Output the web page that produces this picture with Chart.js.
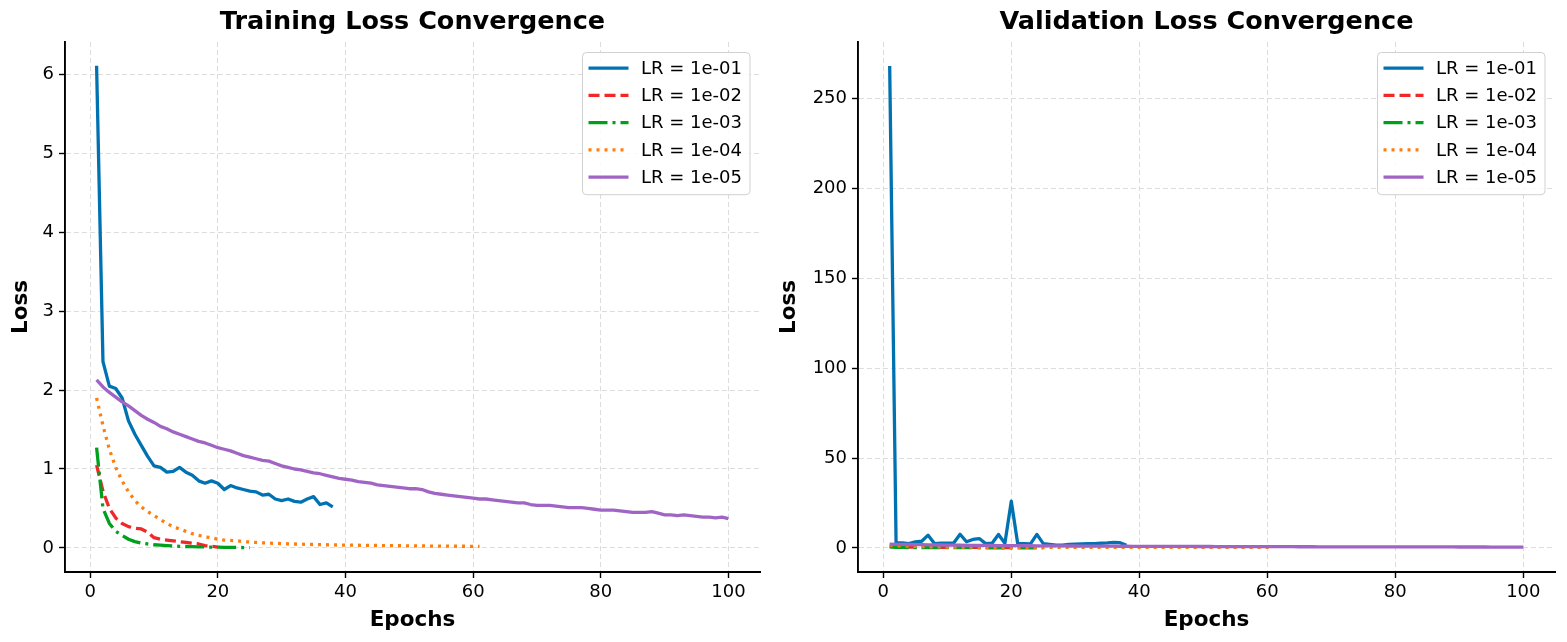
<!DOCTYPE html>
<html>
<head>
<meta charset="utf-8">
<script src="https://cdn.jsdelivr.net/npm/chart.js@4.4.1/dist/chart.umd.min.js"></script>
<style>
  html, body { margin: 0; padding: 0; background: #fff; }
  #wrap { position: relative; width: 1567px; height: 642px; }
  canvas { position: absolute; top: 0; }
</style>
</head>
<body>
<div id="wrap">
  <canvas id="trainChart" width="770" height="642" style="left:0"></canvas>
  <canvas id="valChart" width="797" height="642" style="left:770px"></canvas>
</div>
<script>
const lrLabels = ['LR = 1e-01', 'LR = 1e-02', 'LR = 1e-03', 'LR = 1e-04', 'LR = 1e-05'];
const lrColors = ['#0072B2', '#F02828', '#00A01E', '#FF7F0E', '#A065C4'];
const lrDashes = [[], [11, 5], [19, 5, 3, 5], [3, 5], []];

const xTicks = [0, 20, 40, 60, 80, 100];
const trainYTicks = [0, 1, 2, 3, 4, 5, 6];
const valYTicks = [0, 50, 100, 150, 200, 250];

// training loss per epoch
const trainLr1 = [6.11, 2.36, 2.05, 2.02, 1.90, 1.61, 1.44, 1.30, 1.16, 1.04, 1.02, 0.96, 0.97, 1.02, 0.96,
  0.92, 0.85, 0.82, 0.85, 0.82, 0.74, 0.79, 0.76, 0.74, 0.72, 0.71, 0.67, 0.68, 0.62, 0.60,
  0.62, 0.59, 0.58, 0.62, 0.65, 0.55, 0.57, 0.52];
const trainLr2 = [1.05, 0.72, 0.50, 0.38, 0.31, 0.27, 0.25, 0.24, 0.20, 0.13, 0.11, 0.10, 0.09, 0.08, 0.07,
  0.06, 0.05, 0.03, 0.02, 0.01];
const trainLr3 = [1.27, 0.50, 0.31, 0.21, 0.16, 0.11, 0.08, 0.06, 0.05, 0.04, 0.035, 0.03, 0.025, 0.02, 0.018,
  0.016, 0.014, 0.012, 0.010, 0.009, 0.008, 0.007, 0.006, 0.005, 0.005];
const trainLr4 = [1.90, 1.55, 1.25, 1.02, 0.85, 0.71, 0.60, 0.52, 0.46, 0.41, 0.36, 0.31, 0.27, 0.24, 0.21,
  0.18, 0.16, 0.14, 0.13, 0.11, 0.10, 0.095, 0.09, 0.08, 0.075, 0.07, 0.065, 0.06, 0.058, 0.055,
  0.052, 0.05, 0.048, 0.045, 0.043, 0.041, 0.04, 0.038, 0.037, 0.036, 0.035, 0.034, 0.033, 0.032, 0.031,
  0.03, 0.029, 0.028, 0.027, 0.026, 0.026, 0.025, 0.024, 0.024, 0.023, 0.022, 0.022, 0.021, 0.021, 0.02, 0.02];
const trainLr5 = [2.13, 2.04, 1.97, 1.91, 1.85, 1.80, 1.74, 1.68, 1.63, 1.59, 1.54, 1.51, 1.47, 1.44, 1.41,
  1.38, 1.35, 1.33, 1.30, 1.27, 1.25, 1.23, 1.20, 1.17, 1.15, 1.13, 1.11, 1.10, 1.07, 1.04,
  1.02, 1.00, 0.99, 0.97, 0.95, 0.94, 0.92, 0.90, 0.88, 0.87, 0.86, 0.84, 0.83, 0.82, 0.80,
  0.79, 0.78, 0.77, 0.76, 0.75, 0.75, 0.74, 0.71, 0.69, 0.68, 0.67, 0.66, 0.65, 0.64, 0.63,
  0.62, 0.62, 0.61, 0.60, 0.59, 0.58, 0.57, 0.57, 0.55, 0.54, 0.54, 0.54, 0.53, 0.52, 0.51,
  0.51, 0.51, 0.50, 0.49, 0.48, 0.48, 0.48, 0.47, 0.46, 0.45, 0.45, 0.45, 0.46, 0.44, 0.42,
  0.42, 0.41, 0.42, 0.41, 0.40, 0.39, 0.39, 0.38, 0.39, 0.37];

// validation loss per epoch
const valLr1 = [268, 2.8, 2.8, 2.4, 3.4, 3.7, 7.1, 2.4, 2.6, 2.6, 2.7, 7.6, 3.4, 4.7, 5.2,
  2.4, 2.6, 7.5, 2.6, 26, 2.4, 2.4, 2.2, 7.5, 2.4, 2.0, 1.6, 1.5, 2.0, 2.1,
  2.2, 2.3, 2.4, 2.6, 2.8, 3.1, 2.9, 1.5];
const valLr2 = [0.9, 0.6, 0.5, 0.45, 0.4, 0.4, 0.35, 0.35, 0.3, 0.3, 0.3, 0.28, 0.28, 0.27, 0.26,
  0.25, 0.25, 0.24, 0.24, 0.23];
const valLr3 = [0.6, 0.35, 0.25, 0.2, 0.18, 0.16, 0.15, 0.14, 0.13, 0.13, 0.12, 0.12, 0.11, 0.11, 0.1,
  0.1, 0.1, 0.09, 0.09, 0.09, 0.09, 0.08, 0.08, 0.08, 0.08];
const valLr4 = [1.6, 1.3, 1.1, 0.95, 0.82, 0.72, 0.64, 0.58, 0.53, 0.49, 0.46, 0.43, 0.41, 0.39, 0.37,
  0.36, 0.35, 0.34, 0.33, 0.33, 0.32, 0.32, 0.31, 0.31, 0.31, 0.3, 0.3, 0.3, 0.3, 0.29,
  0.29, 0.29, 0.29, 0.29, 0.28, 0.28, 0.28, 0.28, 0.28, 0.28, 0.28, 0.27, 0.27, 0.27, 0.27,
  0.27, 0.27, 0.27, 0.27, 0.27, 0.26, 0.26, 0.26, 0.26, 0.26, 0.26, 0.26, 0.26, 0.26, 0.26, 0.26];
const valLr5 = [2.10, 2.02, 1.95, 1.89, 1.83, 1.78, 1.72, 1.67, 1.62, 1.58, 1.53, 1.50, 1.46, 1.43, 1.40,
  1.37, 1.34, 1.32, 1.29, 1.27, 1.24, 1.22, 1.19, 1.17, 1.15, 1.13, 1.11, 1.09, 1.07, 1.05,
  1.03, 1.01, 0.99, 0.98, 0.96, 0.95, 0.93, 0.92, 0.90, 0.89, 0.88, 0.86, 0.85, 0.84, 0.83,
  0.82, 0.81, 0.80, 0.79, 0.78, 0.77, 0.76, 0.75, 0.74, 0.73, 0.72, 0.71, 0.70, 0.70, 0.69,
  0.68, 0.67, 0.67, 0.66, 0.65, 0.64, 0.64, 0.63, 0.62, 0.62, 0.61, 0.61, 0.60, 0.59, 0.59,
  0.58, 0.58, 0.57, 0.57, 0.56, 0.56, 0.55, 0.55, 0.54, 0.54, 0.53, 0.53, 0.52, 0.52, 0.51,
  0.51, 0.50, 0.50, 0.50, 0.49, 0.49, 0.48, 0.48, 0.48, 0.47];

const FONT = '"DejaVu Sans", "Liberation Sans", sans-serif';

function toPoints(arr) {
  return arr.map((v, i) => ({ x: i + 1, y: v }));
}

function makeDatasets(series) {
  return series.map((s, i) => ({
    label: lrLabels[i],
    data: toPoints(s),
    borderColor: lrColors[i],
    backgroundColor: lrColors[i],
    borderWidth: 3.3,
    borderDash: lrDashes[i],
    borderCapStyle: 'butt',
    borderJoinStyle: 'round',
    pointRadius: 0,
    fill: false,
    tension: 0,
    order: series.length - i   // later series drawn on top, like matplotlib
  }));
}

// legend box drawn inside the plot, top right
const insideLegend = {
  id: 'insideLegend',
  afterDatasetsDraw(chart) {
    const ctx = chart.ctx;
    const area = chart.chartArea;
    const sets = chart.data.datasets;
    ctx.save();
    ctx.font = '18px ' + FONT;
    const textW = Math.max(...sets.map(d => ctx.measureText(d.label).width));
    const rowH = 27.25;
    const w = 6 + 40 + 12.5 + textW + 8;
    const h = 15.6 * 2 + rowH * (sets.length - 1) + 2;
    const x0 = area.right - 10 - w;
    const y0 = area.top + 10.5;
    ctx.beginPath();
    ctx.roundRect(x0, y0, w, h, 4);
    ctx.fillStyle = 'rgba(255,255,255,0.85)';
    ctx.fill();
    ctx.lineWidth = 1;
    ctx.strokeStyle = '#d0d0d0';
    ctx.stroke();
    sets.forEach((d, i) => {
      const cy = y0 + 15.6 + i * rowH;
      ctx.beginPath();
      ctx.setLineDash(d.borderDash);
      ctx.lineCap = 'butt';
      ctx.lineWidth = 3.3;
      ctx.strokeStyle = d.borderColor;
      ctx.moveTo(x0 + 6, cy);
      ctx.lineTo(x0 + 46, cy);
      ctx.stroke();
      ctx.setLineDash([]);
      ctx.fillStyle = '#000';
      ctx.textBaseline = 'middle';
      ctx.textAlign = 'left';
      ctx.fillText(d.label, x0 + 58.5, cy + 1);
    });
    ctx.restore();
  }
};

function makeChart(id, title, series, yMin, yMax, yTicks, yAxisWidth, yTitlePad, rightPad) {
  const ctx = document.getElementById(id).getContext('2d');
  return new Chart(ctx, {
    type: 'line',
    data: { datasets: makeDatasets(series) },
    options: {
      responsive: false,
      animation: false,
      layout: { padding: { left: 0, right: rightPad, top: 0, bottom: 0 } },
      plugins: {
        legend: { display: false },
        tooltip: { enabled: false },
        title: {
          display: true,
          text: title,
          fullSize: false,
          color: '#000',
          font: { family: FONT, size: 25.5, weight: 'bold' },
          padding: { top: 7, bottom: 4.4 }
        }
      },
      scales: {
        x: {
          type: 'linear',
          min: -3.95,
          max: 104.95,
          afterBuildTicks: s => { s.ticks = xTicks.map(v => ({ value: v })); },
          afterFit: s => { s.height = 70; },
          ticks: { color: '#000', font: { family: FONT, size: 18 }, padding: 4, maxRotation: 0 },
          grid: { color: '#dcdcdc', lineWidth: 1, tickLength: 6, tickColor: '#000', tickWidth: 1.4 },
          border: { display: true, color: '#000', width: 1.9, dash: [5, 3] },
          title: {
            display: true, text: 'Epochs', color: '#000',
            font: { family: FONT, size: 21.5, weight: 'bold' },
            padding: { top: 0, bottom: 9 }
          }
        },
        y: {
          type: 'linear',
          min: yMin,
          max: yMax,
          afterBuildTicks: s => { s.ticks = yTicks.map(v => ({ value: v })); },
          afterFit: s => { s.width = yAxisWidth; },
          ticks: { color: '#000', font: { family: FONT, size: 18 }, padding: 5 },
          grid: { color: '#dcdcdc', lineWidth: 1, tickLength: 6, tickColor: '#000', tickWidth: 1.4 },
          border: { display: true, color: '#000', width: 1.9, dash: [5, 3] },
          title: {
            display: true, text: 'Loss', color: '#000',
            font: { family: FONT, size: 21.5, weight: 'bold' },
            padding: { top: yTitlePad, bottom: 0 }
          }
        }
      }
    },
    plugins: [insideLegend]
  });
}

makeChart('trainChart', 'Training Loss Convergence',
  [trainLr1, trainLr2, trainLr3, trainLr4, trainLr5], -0.305, 6.41, trainYTicks, 65, 9, 10);
makeChart('valChart', 'Validation Loss Convergence',
  [valLr1, valLr2, valLr3, valLr4, valLr5], -13.4, 281.4, valYTicks, 88, 7, 12);
</script>
</body>
</html>
